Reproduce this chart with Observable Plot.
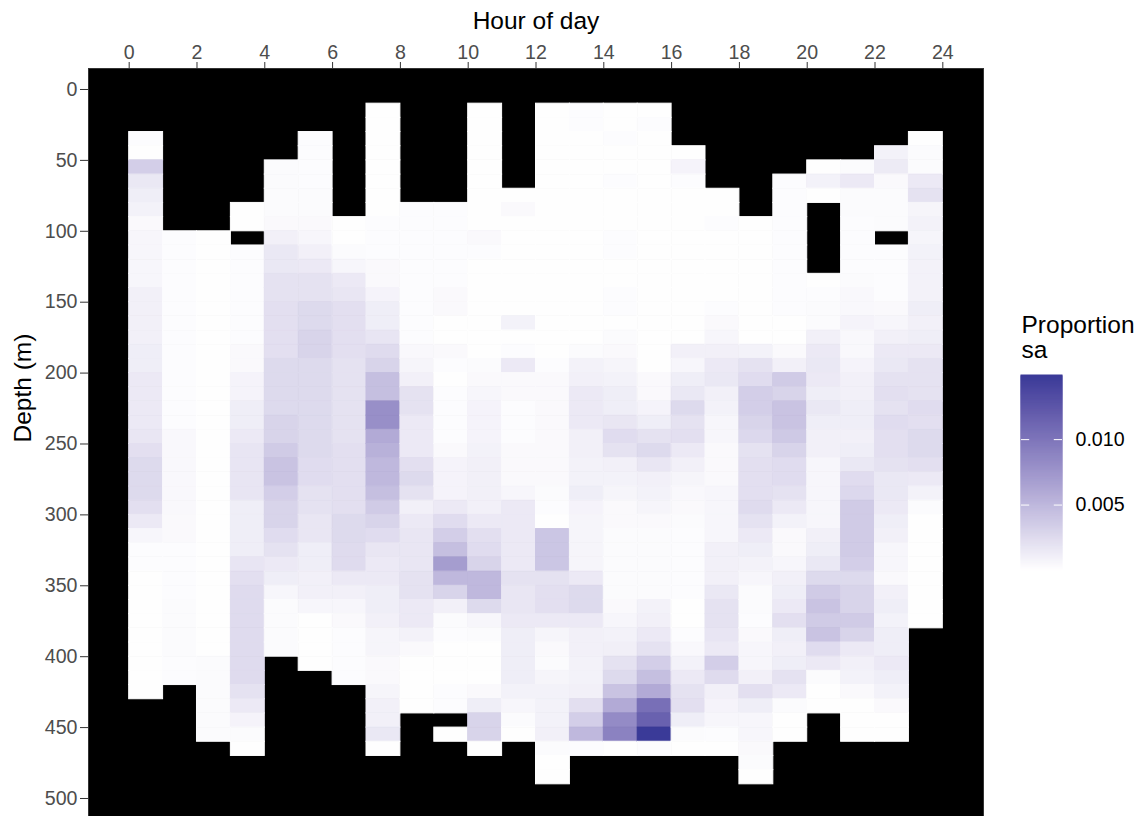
<!DOCTYPE html>
<html>
<head>
<meta charset="utf-8">
<script src="https://cdn.jsdelivr.net/npm/d3@7"></script>
<script src="https://cdn.jsdelivr.net/npm/@observablehq/plot@0.6"></script>
<style>
  html, body { margin: 0; padding: 0; background: #ffffff; }
  #wrap { position: relative; width: 1148px; height: 816px; overflow: hidden; font-family: "Liberation Sans", Arial, sans-serif; }
  #legend { position: absolute; left: 1005px; top: 300px; }
</style>
</head>
<body>
<div id="wrap"><div id="main"></div><div id="legend"></div></div>
<script>
// ---- tick labels ----
const hourTicks = [0, 2, 4, 6, 8, 10, 12, 14, 16, 18, 20, 22, 24];
const depthTicks = [0, 50, 100, 150, 200, 250, 300, 350, 400, 450, 500];
const legendTicks = [0.005, 0.010];

// ---- data: for each hour, depth (m) of the first 10 m bin, then the
// proportion sa (in thousandths) of each successive 10 m bin; null = no data
const topDepth = [30, 100, 100, 80, 50, 30, 90, 10, 80, 80, 10, 70, 10, 10, 10, 10, 40, 70, 90, 60, 50, 50, 40, 30];
const binSize = 10;

const h00 = [0.2,0.1,3.4,1.6,1.2,0.9,0.4,0.6,0.6,0.6,0.6,1,1,1,1,1.2,1.2,1.5,1.5,1.5,1.5,1.7,2.2,2.6,2.6,2.6,2.2,1.5,0.6,0.2,0.2,0.1,0.1,0.1,0.1,0.1,0.1,0.1,0.1,0.1];
const h01 = [0.2,0.2,0.2,0.2,0.2,0.2,0.2,0.2,0.2,0.2,0.2,0.2,0.2,0.2,0.5,0.5,0.5,0.5,0.5,0.5,0.4,0.4,0.2,0.2,0.2,0.2,0.3,0.3,0.3,0.3,0.2,0.2];
const h02 = [0.1,0.1,0.1,0.1,0.1,0.1,0.1,0.1,0.1,0.1,0.1,0.1,0.1,0.1,0.1,0.1,0.1,0.1,0.1,0.1,0.1,0.1,0.1,0.1,0.1,0.1,0.1,0.1,0.1,0.1,0.3,0.3,0.3,0.3,0.3,0.3];
const h03 = [0.1,0.1,null,0.2,0.2,0.2,0.2,0.2,0.2,0.2,0.4,0.4,0.8,0.8,1.2,1.2,1.5,1.8,1.8,1.8,1.8,1.2,1.2,1.2,1.2,1.8,2.2,2.5,2.5,2.5,2.5,2.5,2.5,2.5,2,1.5,0.8,0.3,0.1];
const h04 = [0.3,0.3,0.3,0.3,0.4,1,1.6,1.6,2,2,2.2,2.2,2.2,2.2,2.6,2.6,2.6,2.6,3,3,3.6,4.2,4.2,3.4,3,3,2.4,2,1.5,1.2,0.6,0.3,0.3,0.3,0.3];
const h05 = [0.2,0.2,0.2,0.2,0.3,0.3,0.4,0.6,1,1.5,2,2,2.6,2.6,3,3,2.6,2.6,2.6,2.6,2.6,2.6,2.6,2.4,2.4,2,2,1.7,1.7,1.2,1.2,1,1,0.6,0.1,0.1,0.1,0.1];
const h06 = [0.1,0.1,0.3,0.6,1.5,1.7,2.2,2.2,2.2,2.2,2,2,2,2,2,2,2.2,2.2,2.2,2.2,2.2,2.6,2.6,2.5,2.5,1.5,1,0.6,0.4,0.2,0.2,0.2,0.2];
const h07 = [0.1,0.1,0.1,0.1,0.1,0.1,0.1,0.1,0.2,0.2,0.2,0.4,0.4,0.8,1.2,1.2,1.8,2.5,3,4.5,4.5,8,8,6,5.5,5,5,4.5,3.6,3,2.4,1.7,1.5,1.5,1.2,1.2,1,0.7,0.7,0.4,0.4,0.7,1,1,1.6,0.1];
const h08 = [0.2,0.2,0.2,0.2,0.2,0.2,0.2,0.2,0.2,0.2,0.5,0.7,1,2,2,1.5,1.5,1.5,2.2,2.6,2,1,1.5,1.7,1.7,1.7,2,2,1.5,1.5,0.9,0.4,0.1,0.1,0.1,0.1];
const h09 = [0.2,0.2,0.2,0.2,0.2,0.2,0.4,0.4,0.1,0.1,0.4,0.2,0.1,0.2,0.2,0.2,0.2,0.4,0.8,0.8,0.8,1.5,2.4,3.4,4.5,7,5,3,1,0.3,0.2,0.1,0.1,0.1,0.2,0.2,null,0.1];
const h10 = [0.1,0.1,0.1,0.1,0.1,0.1,0.1,0.1,0.1,0.4,0.2,0.1,0.1,0.1,0.1,0.1,0.1,0.1,0.3,0.4,0.6,0.8,0.8,0.8,0.9,1,1,1,1,1.5,2.2,2.4,3,5,5,2.6,0.6,0.3,0.1,0.1,0.1,0.4,1.2,3,3,0.1];
const h11 = [0.1,0.4,0.1,0.1,0.1,0.1,0.1,0.1,0.1,0.9,0.1,0.2,1.5,0.4,0.4,0.2,0.2,0.2,0.4,0.4,0.4,0.6,1.5,1.5,1.5,1.5,1.5,2,1.7,1.7,1.5,1.2,1.2,1.2,1.2,0.9,0.6,0.3,0.1];
const h12 = [0.1,0.1,0.1,0.1,0.1,0.1,0.1,0.1,0.1,0.1,0.1,0.1,0.1,0.1,0.1,0.1,0.1,0.1,0.2,0.4,0.4,0.4,0.4,0.4,0.4,0.4,0.4,0.3,0.2,0.1,4,4,4,2,2.2,2.2,1.5,0.7,0.4,0.3,0.7,0.9,0.9,0.9,1,0.3,0.1,0.1];
const h13 = [0.2,0.2,0.1,0.1,0.1,0.1,0.1,0.1,0.1,0.1,0.1,0.1,0.1,0.1,0.1,0.1,0.1,0.3,0.9,1,1.5,1.5,1.5,1,1,0.9,0.9,1.2,0.8,0.7,0.7,0.7,0.7,1.5,2.6,2.6,1.5,1,1,0.9,0.9,1,2.2,3.4,5,0.2];
const h14 = [0.1,0.1,0.2,0.1,0.1,0.2,0.1,0.1,0.1,0.2,0.2,0.1,0.1,0.2,0.2,0.1,0.3,0.4,0.7,0.9,1.2,1.2,1.7,2.4,2,1,0.9,0.7,0.4,0.4,0.3,0.3,0.3,0.3,0.3,0.4,0.6,0.9,1.1,2,2.6,4.2,6,8.3,9,0.1];
const h15 = [0.1,0.2,0.1,0.1,0.1,0.1,0.1,0.1,0.1,0.1,0.1,0.1,0.1,0.1,0.1,0.1,0.1,0.1,0.1,0.4,0.4,0.8,1.2,2,2.6,1.7,1,0.9,0.7,0.4,0.3,0.3,0.3,0.3,0.3,0.9,1,1.5,2,3.4,4.5,6,10.5,11.6,14.9,0.2];
const h16 = [0.1,0.8,0.2,0.1,0.1,0.1,0.1,0.1,0.1,0.1,0.1,0.1,0.1,0.1,1,0.6,1.2,1.6,2.6,2,2.2,1.5,1,0.7,0.5,0.4,0.3,0.2,0.2,0.2,0.2,0.2,0.1,0.1,0.2,0.5,0.9,1.5,2,2.2,1.2,0.3,0.1];
const h17 = [0.1,0.1,0.2,0.1,0.1,0.1,0.1,0.1,0.2,0.4,0.6,1,1.5,1.6,1,0.9,0.6,0.6,0.4,0.4,0.4,0.6,0.6,0.6,0.6,1,1,1,1.6,2,2,1.8,1.5,3.4,2.5,1,0.8,0.6,0.2,0.1];
const h18 = [0.1,0.1,0.1,0.1,0.1,0.1,0.1,0.1,0.1,0.9,2,2.4,3.4,3.4,3,2.7,2,2.2,2.2,2.2,2.5,2,1.5,1.2,0.9,0.6,0.3,0.3,0.2,0.4,0.6,0.6,1,2.2,1.2,0.6,0.6,0.4,0.3,0.1];
const h19 = [0.2,0.2,0.2,0.2,0.2,0.2,0.2,0.2,0.2,0.2,0.1,0.1,0.4,1,3.6,3,4.2,4.2,3.8,3,2.4,2.4,2,1.5,0.9,0.4,0.4,0.6,1,1.2,1.5,2.2,1.2,1,1.2,2,1.5,0.3,0.1,0.1];
const h20 = [0.1,0.9,0.1,null,null,null,null,null,0.1,0.2,0.3,0.3,1,1.5,1.6,1.5,1.2,1.6,1.2,1,1,0.6,0.6,0.6,0.6,0.6,1,1.2,1.6,2.6,3.6,4.2,3.6,4.2,2.4,1.5,0.3,0.1,0.1];
const h21 = [0.3,1.5,0.3,0.3,0.2,0.2,0.2,0.2,0.3,0.5,0.5,0.8,0.5,0.5,0.8,1,1,1.2,1.2,1,1.2,1.6,2.4,2.7,3.6,3.6,3.6,3.6,3.4,2.6,3,3,3.6,3,1.5,1,0.9,0.4,0.1,0.1,0.1];
const h22 = [0.9,1.4,0.4,0.3,0.3,0.3,null,0.2,0.2,0.2,0.2,0.4,0.6,1,1.5,1.6,2,2.2,2,2.4,2.2,2.2,2,1.6,1.6,1.5,1.2,1,0.6,0.6,0.4,1,1.2,0.9,1.2,1.2,1.5,1.2,0.9,0.4,0.1,0.1];
const h23 = [0.1,0.3,0.3,1.5,2,0.7,0.9,0.7,0.9,0.9,0.9,0.9,1.2,1,1.2,1.5,2,2,2,2.4,2.2,2.6,2.6,2.2,1.5,0.9,0.3,0.1,0.1,0.1,0.1,0.1,0.1,0.1,0.1];

const columns = [h00,h01,h02,h03,h04,h05,h06,h07,h08,h09,h10,h11,h12,h13,h14,h15,h16,h17,h18,h19,h20,h21,h22,h23];

// table for the library
const cells = [];
columns.forEach((col, hour) => {
  col.forEach((v, j) => {
    if (v == null) return;
    const depth = topDepth[hour] + binSize * j;
    cells.push({hour, hourEnd: hour + 1, depth, depthEnd: depth + binSize, value: v / 1000});
  });
});

const vmax = d3.max(cells, d => d.value);
const colorOpts = {type: "linear", domain: [0, vmax], range: ["#ffffff", "#3a3a98"], interpolate: "lab"};
const font = "'Liberation Sans', Arial, Helvetica, sans-serif";

const chart = Plot.plot({
  width: 1148,
  height: 816,
  marginLeft: 88,
  marginRight: 165,
  marginTop: 68,
  marginBottom: 0,
  style: {fontFamily: font, background: "#ffffff", overflow: "visible"},
  x: {domain: [-1.2, 25.2]},
  y: {domain: [-14.8, 512.7], reverse: true},
  color: colorOpts,
  marks: [
    Plot.frame({fill: "black", stroke: "#333333"}),
    Plot.rect(cells, {x1: "hour", x2: "hourEnd", y1: "depth", y2: "depthEnd", inset: 0, fill: "value", stroke: "value", strokeWidth: 1}),
    Plot.axisX({anchor: "top", ticks: hourTicks, tickSize: 7, tickPadding: 3, fontSize: 19.6, stroke: "#333333", fill: "#4d4d4d", label: null}),
    Plot.axisY({anchor: "left", ticks: depthTicks, tickSize: 8, tickPadding: 3, fontSize: 19.6, stroke: "#333333", fill: "#4d4d4d", label: null}),
    Plot.text(["Hour of day"], {text: d => d, frameAnchor: "top", dy: -57, fontSize: 24.5, fill: "black"}),
    Plot.text(["Depth (m)"], {text: d => d, frameAnchor: "left", dx: -65, rotate: -90, fontSize: 24.5, fill: "black"})
  ]
});
document.getElementById("main").appendChild(chart);

// ---- legend (vertical colour bar) ----
const nSteps = 200;
const ramp = d3.range(nSteps).map(i => ({lo: vmax * i / nSteps, hi: vmax * (i + 1) / nSteps}));
const legend = Plot.plot({
  width: 143,
  height: 290,
  margin: 0,
  style: {fontFamily: font, background: "transparent", overflow: "visible"},
  x: {domain: [0, 1], range: [16, 57], axis: null},
  y: {domain: [0, vmax], range: [270, 75], axis: null},
  color: colorOpts,
  marks: [
    Plot.rect(ramp, {x1: 0, x2: 1, y1: "lo", y2: "hi", inset: 0, fill: d => (d.lo + d.hi) / 2, stroke: d => (d.lo + d.hi) / 2, strokeWidth: 1}),
    Plot.ruleY(legendTicks, {y: d => d, x1: 0, x2: 0.2, stroke: "white", strokeWidth: 1}),
    Plot.ruleY(legendTicks, {y: d => d, x1: 0.8, x2: 1, stroke: "white", strokeWidth: 1}),
    Plot.text(legendTicks, {x: 1, y: d => d, dx: 13, textAnchor: "start", text: d => d3.format(".3f")(d), fontSize: 19.6, fill: "black"}),
    Plot.text(["Proportion\nsa"], {text: d => d, frameAnchor: "top-left", dx: 16, dy: 15, lineAnchor: "top", textAnchor: "start", lineHeight: 1.02, fontSize: 24.5, fill: "black"})
  ]
});
document.getElementById("legend").appendChild(legend);
</script>
</body>
</html>
